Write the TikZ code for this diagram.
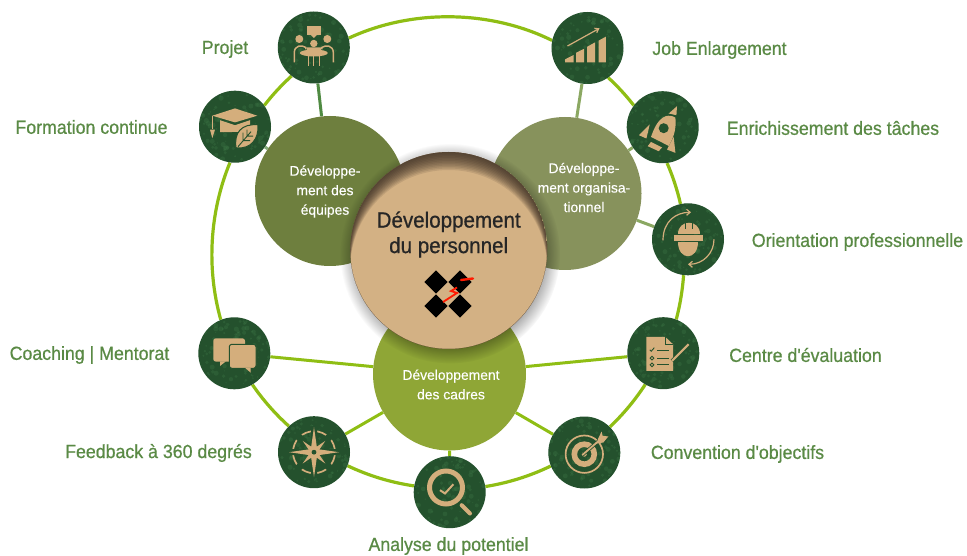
\documentclass[tikz,border=0pt]{standalone}
\usepackage{fontspec}
\setmainfont[FakeStretch=0.92]{Liberation Sans}
\newfontfamily\hubfont[FakeStretch=0.99,FakeBold=0.15]{Liberation Sans}
\newfontfamily\lblfont[FakeStretch=0.935,FakeBold=0.7]{Liberation Sans}
\usepackage{xcolor}
\usetikzlibrary{arrows.meta}
\usetikzlibrary{fadings}
\usetikzlibrary{backgrounds}
\definecolor{ringgreen}{HTML}{8FBE14}
\definecolor{spokedark}{HTML}{4F8A42}
\definecolor{spokepale}{HTML}{8BA862}
\definecolor{teamgreen}{HTML}{6E7F3E}
\definecolor{orggreen}{HTML}{87925C}
\definecolor{cadregreen}{HTML}{8FA636}
\definecolor{iconbg}{HTML}{24512D}
\definecolor{iconspot}{HTML}{3F7A48}
\definecolor{icontan}{HTML}{D4AE7C}
\definecolor{labelgreen}{HTML}{5A8A45}
\definecolor{disctan}{HTML}{D3B184}
\definecolor{discdark}{HTML}{3A2D22}
\tikzset{
  icon/.style={circle,minimum size=72,inner sep=0,fill=iconbg,path picture={
      \foreach \i in {1,...,110}{\fill[iconspot,opacity=.3] ({rnd*72-36},{rnd*72-36}) circle ({rnd*2+.6});}}},
  hub/.style={circle,minimum size=#1,inner sep=0},
  hubtext/.style={text=white,inner sep=0,align=center,font=\hubfont\fontsize{14}{19.5}\selectfont},
  lbl/.style={text=labelgreen,inner sep=0,font=\lblfont\fontsize{19}{20}\selectfont},
  ring/.style={ringgreen,line width=3.2,looseness=.87},
  spoke/.style={line width=3},
  tan/.style={fill=icontan,draw=none},
  tanline/.style={draw=icontan,line width=#1,fill=none},
  darkline/.style={draw=iconbg,line width=#1,fill=none},
  pics/projet/.style={code={
      \fill[tan] (-7.3,-21) rectangle (7.3,-12);
      \fill[tan] (-3,-12.5) -- (0,-9.5) -- (3,-12.5) -- cycle;
      \fill[tan] (-14.5,-8.5) circle (4) (13.5,-8.5) circle (4) (0,-4) circle (3.7);
      \draw[tanline=1.5] (-19.5,15) -- (-19.5,5) .. controls (-19.5,-2) and (-12,-3) .. (-8,0) -- (-8,2);
      \draw[tanline=1.5] (19.5,15) -- (19.5,5) .. controls (19.5,-2) and (12,-3) .. (8,0) -- (8,2);
      \fill[tan] (0,5.5) ellipse (14 and 3.5);
      \fill[tan] (-7,0) .. controls (-3,0) and (3,0) .. (7,0) -- (7,5) -- (-7,5) -- cycle;
      \draw[tanline=1.3] (-5.5,8) -- (-5.5,19) (5.5,8) -- (5.5,19) (0,8) -- (0,19);
  }},
  pics/formation/.style={code={
      \fill[tan] (-22.7,-11) -- (0,-18.3) -- (22.3,-11) -- (0,-4.3) -- cycle;
      \fill[tan] (-15,-6.5) -- (0,-1.5) -- (15,-6.5) -- (15,5) -- (-15,5.5) -- cycle;
      \draw[tanline=1] (-22.7,-11) -- (-22.7,2);
      \fill[tan] (-25,3) -- (-20,3) -- (-22.7,11.5) -- cycle;
      \filldraw[fill=icontan,draw=iconbg,line width=1] (1,21) .. controls (-1,6) and (6,-3) .. (23,-2) .. controls (24,12) and (16,23) .. (1,21) -- cycle;
      \draw[darkline=.9] (3,20) -- (16,5) (8,14) -- (8,6) (8,14) -- (15,14) (12,9.5) -- (12,3) (12,9.5) -- (18,9.5);
  }},
  pics/enlarge/.style={code={
      \fill[tan] (-22.3,14.3) -- (-22.3,11.3) -- (-14,7) -- (-14,14.3) -- cycle;
      \fill[tan] (-11.3,14.3) -- (-11.3,4.7) -- (-3.3,.7) -- (-3.3,14.3) -- cycle;
      \fill[tan] (-.3,14.3) -- (-.3,-1.3) -- (7.7,-5.7) -- (7.7,14.3) -- cycle;
      \fill[tan] (11,14.3) -- (11,-7.3) -- (18.3,-11.3) -- (18.3,14.3) -- cycle;
      \draw[tanline=1.2,-{Straight Barb[length=3.5,width=5]}] (-20,-2) -- (12,-19.7);
  }},
  pics/rocket/.style={code={
      \fill[tan] (6,-13.7) -- (14.3,-21) -- (13.7,-12) -- cycle;
      \fill[tan] (3,-11) .. controls (-5,-8) and (-9,2) .. (-11.7,9.7) -- (6,18.7) .. controls (10,12) and (14,3) .. (12.7,-9.5) .. controls (10,-11.5) and (6,-12) .. (3,-11) -- cycle;
      \fill[iconbg] (1,1) circle (5);
      \fill[tan] (-23.7,8) -- (-13,-2.7) -- (-16.3,11.3) -- cycle;
      \fill[tan] (4.3,22.3) -- (11,9.7) -- (12.7,25.7) -- cycle;
      \fill[tan] (-15,19) -- (-11.7,14.7) -- (-.7,20.3) -- (-4,24) -- cycle;
  }},
  pics/helmet/.style={code={
      \fill[tan] (-10.5,-5) .. controls (-10.5,-20) and (11.5,-20) .. (11.5,-5) -- cycle;
      \fill[tan] (-13.7,-4) rectangle (14.7,1.7);
      \fill[tan] (-10,2.7) .. controls (-10,22) and (10,22) .. (10,2.7) -- cycle;
      \draw[darkline=.8] (-3,-17) -- (-3,-10) (4,-17) -- (4,-10);
      \draw[tanline=1.2,-{Straight Barb[length=3.5,width=6]}] (-25,1) .. controls (-25,-18) and (-12,-27) .. (3,-27);
      \draw[tanline=1.2,-{Straight Barb[length=3.5,width=6]}] (26,0) .. controls (26,14) and (15,25) .. (0,25);
  }},
  pics/assess/.style={code={
      \fill[tan] (-17,-16.3) -- (2,-16.3) -- (9.7,-9) -- (9.7,17.7) -- (-17,17.7) -- cycle;
      \draw[darkline=.8] (2,-16.3) -- (2,-9) -- (9.7,-9);
      \foreach \yy in {-3,5,11.7}{\draw[darkline=1] (-6.3,\yy) -- (5.3,\yy);}
      \draw[darkline=.9] (-13.5,-3.5) -- (-12,-2) -- (-9,-5.5);
      \draw[darkline=.9] (-11.3,5) circle (1.9) (-11.3,11.7) circle (1.9);
      \draw[draw=iconbg,line width=3.6] (8.7,7.7) -- (25.3,-9);
      \draw[tanline=2.2] (8.7,7.7) -- (25.3,-9);
  }},
  pics/target/.style={code={
      \draw[tanline=1.7] (0,1.7) circle (18.7);
      \draw[tanline=5.6] (0,1.7) circle (10);
      \fill[tan] (0,1.7) circle (2.5);
      \draw[draw=iconbg,line width=3.4] (-2,2.5) -- (16,-13);
      \draw[tanline=1.8] (-2,2.5) -- (16,-13);
      \fill[tan] (14,-14.3) -- (17.3,-21) -- (18.3,-16.7) -- (24,-16) -- (19,-10) -- (12.5,-9) -- cycle;
  }},
  pics/lens/.style={code={
      \draw[tanline=5] (-3.7,-4.7) circle (16.5);
      \draw[tanline=4,line cap=round] (12,13) -- (20.3,21.3);
      \draw[tanline=2] (-9.7,-2) -- (-4.7,1.3) -- (3.7,-8);
  }},
  pics/compass/.style={code={
      \draw[tanline=1.7] (0,0) circle (21);
      \fill[iconbg] (-26,-3) rectangle (26,3) (-3,-26) rectangle (3,26);
      \foreach \a in {45,135,225,315}{\fill[iconbg,rotate=\a] (14,-3.5) rectangle (23,3.5);}
      \foreach \a in {45,135,225,315}{\fill[tan,rotate=\a] (0,-3) -- (16,0) -- (0,3) -- cycle;}
      \foreach \a in {0,90,180,270}{\fill[tan,rotate=\a] (0,-3.6) -- (25,0) -- (0,3.6) -- cycle;}
      \fill[iconbg] (0,0) circle (2.4);
  }},
  pics/chat/.style={code={
      \fill[tan,rounded corners=2.5] (-21,-15) rectangle (10.7,8.3);
      \fill[tan] (-14.3,8) -- (-14.3,12.7) -- (-8.3,8) -- cycle;
      \filldraw[fill=icontan,draw=iconbg,line width=1,rounded corners=2.5] (-5,-9) rectangle (21.7,15);
      \fill[tan] (10.7,14.5) -- (16.3,19.3) -- (16.3,14.5) -- cycle;
  }},
  pics/logo/.style={code={
      \foreach \xx in {-12,12}{\foreach \yy in {-12,12}{
          \fill[black] (\xx-11.6,\yy) -- (\xx,\yy-11.6) -- (\xx+11.6,\yy) -- (\xx,\yy+11.6) -- cycle;}}
      \draw[red!80!orange,line width=2.4,line cap=round] (13,-14) -- (25,-15.5);
      \draw[red!80!orange,line width=1.8] (9,-6.5) -- (3,-3) -- (9,-1) -- (-5,8);
  }},
}
\begin{document}
\begin{tikzpicture}[x=1pt,y=-1pt]
    \useasboundingbox (0,0) rectangle (967,556);
    % three hubs, then the shadow and the disc on top
    \node(teams)[hub=150,fill=teamgreen] at (330,191) {};
    \node(orga)[hub=153,fill=orggreen] at (565,193.5) {};
    \node(cadres)[hub=153,fill=cadregreen] at (449.5,374) {};
    \fill[black,opacity=.45,path fading=circle with fuzzy edge 20 percent] (450,253.5) circle (110);
    \node(disc)[circle,minimum size=197,inner sep=0,fill=disctan] at (448.7,250.5) {};
    % dark rim, widest at the top of the disc
    \begin{scope}
    \clip (448.7,250.5) circle (98.5);
    \foreach \k in {1.5,3,...,18}{
      \fill[discdark,opacity=.12,even odd rule] (448.7,250.5) circle (98.5) (448.7,250.5+\k) circle (98.5);
    }
    \end{scope}
    \node(disctext)[text=black!85,align=center,inner sep=0,font=\lblfont\fontsize{22}{25.5}\selectfont] at ([yshift=16]disc.center) {Développement\\du personnel};
    \node(teamstext)[hubtext] at (325,191.5) {Développe-\\ment des\\équipes};
    \node(orgatext)[hubtext] at (584,187.5) {Développe-\\ment organisa-\\tionnel};
    \node(cadrestext)[hubtext] at (451,384.5) {Développement\\des cadres};
    \pic at (448,294) {logo};

    \node(projet)[icon] at (313.8,47.5) {};
    \node(formation)[icon] at (235,126.7) {};
    \node(job)[icon] at (587.5,48) {};
    \node(tasks)[icon] at (662.7,127.2) {};
    \node(orient)[icon] at (688,239.3) {};
    \node(centre)[icon] at (663.3,353.2) {};
    \node(objectifs)[icon] at (584.3,452.5) {};
    \node(analyse)[icon] at (449.7,492.2) {};
    \node(feedback)[icon] at (314,452.2) {};
    \node(coaching)[icon] at (234.3,353.3) {};

    \pic at (projet) {projet};
    \pic at (formation) {formation};
    \pic at (job) {enlarge};
    \pic at (tasks) {rocket};
    \pic at (orient) {helmet};
    \pic at (centre) {assess};
    \pic at (objectifs) {target};
    \pic at (analyse) {lens};
    \pic at (feedback) {compass};
    \pic at (coaching) {chat};

    \node(lprojet)[lbl] at (225,49) {Projet};
    \node(lformation)[lbl] at (91.5,127) {Formation continue};
    \node(ljob)[lbl] at (719.5,50) {Job Enlargement};
    \node(ltasks)[lbl] at (833,128) {Enrichissement des tâches};
    \node(lorient)[lbl] at (857.5,242) {Orientation professionnelle};
    \node(lcentre)[lbl] at (805.5,355) {Centre d'évaluation};
    \node(lobjectifs)[lbl] at (737.5,454) {Convention d'objectifs};
    \node(lanalyse)[lbl] at (448.5,546) {Analyse du potentiel};
    \node(lfeedback)[lbl] at (158.5,453) {Feedback à 360 degrés};
    \node(lcoaching)[lbl] at (89.5,355) {Coaching | Mentorat};

    \begin{pgfonlayer}{background}
    \draw[ring] (projet.15.6) to[bend left=25.7] (job.168.3);
    \draw[ring] (job.-55.5) to[bend left=4.6] (tasks.143.5);
    \draw[ring] (tasks.-83.7) to[bend left=5.2] (orient.102.8);
    \draw[ring] (orient.-97.4) to[bend left=5.2] (centre.69);
    \draw[ring] (centre.-120) to[bend left=6.6] (objectifs.45.9);
    \draw[ring] (objectifs.202) to[bend left=8.2] (analyse.9.8);
    \draw[ring] (analyse.170) to[bend left=8.4] (feedback.-22);
    \draw[ring] (feedback.134.8) to[bend left=6.7] (coaching.-60.4);
    \draw[ring] (coaching.112.2) to[bend left=19] (formation.-98);
    \draw[ring] (formation.36.8) to[bend left=4.9] (projet.232.3);

    \draw[spoke,spokedark] (projet)--(teams);
    \draw[spoke,spokedark!70!white] (formation)--(teams);
    \draw[spoke,spokepale] (job)--(orga);
    \draw[spoke,spokepale] (tasks)--(orga);
    \draw[spoke,spokepale] (orient)--(orga);
    \draw[spoke,ringgreen] (centre)--(cadres);
    \draw[spoke,ringgreen] (objectifs)--(cadres);
    \draw[spoke,ringgreen] (analyse)--(cadres);
    \draw[spoke,ringgreen] (feedback)--(cadres);
    \draw[spoke,ringgreen] (coaching)--(cadres);
    \end{pgfonlayer}
\end{tikzpicture}
\end{document}
